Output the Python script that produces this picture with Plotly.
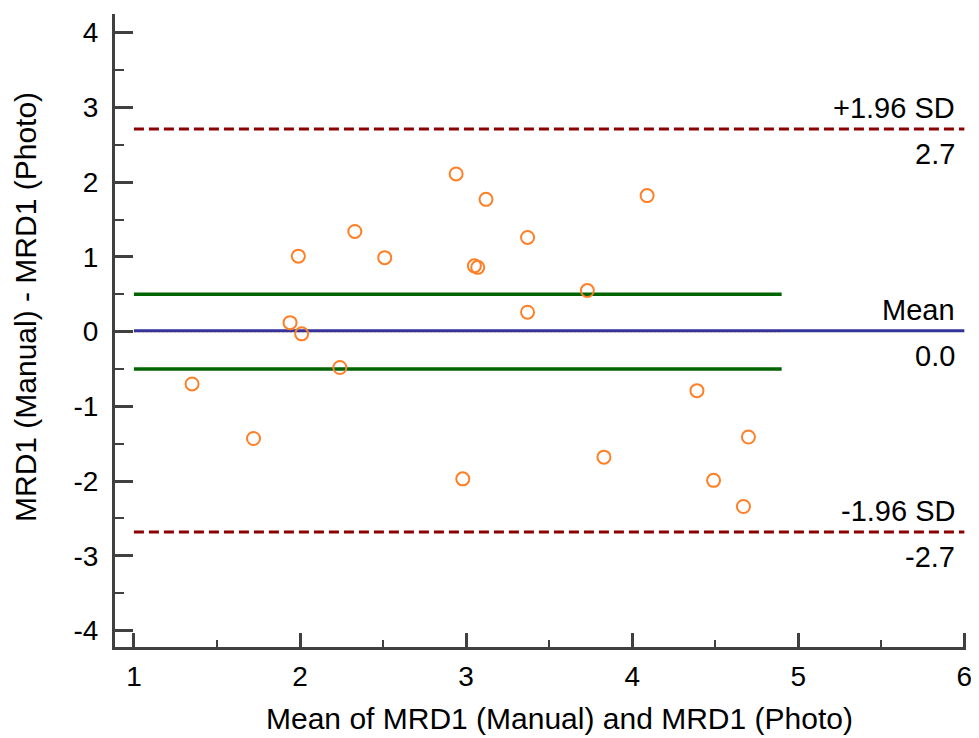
import plotly.graph_objects as go

# Data
mean_vals = [1.35, 1.72, 1.94, 2.01, 1.99, 2.33, 2.51, 2.24, 2.94, 3.12, 3.37,
             3.05, 3.07, 3.37, 3.73, 4.09, 2.98, 3.83, 4.39, 4.70, 4.49, 4.67]
diff_vals = [-0.70, -1.43, 0.12, -0.03, 1.01, 1.34, 0.99, -0.48, 2.11, 1.77, 1.26,
             0.88, 0.86, 0.26, 0.55, 1.82, -1.97, -1.68, -0.79, -1.41, -1.99, -2.34]

mean_diff = 0.013
upper_loa = 2.71
lower_loa = -2.68
agree_limit = 0.5
line_x_full = [1, 6]
line_x_short = [1, 4.9]

x_ticks = [1, 2, 3, 4, 5, 6]
y_ticks = [-4, -3, -2, -1, 0, 1, 2, 3, 4]
y_tick_text = ["-4", "-3", "-2", "-1", "0", "1", "2", "3", "4"]

upper_label = ["+1.96 SD", "2.7"]
mean_label = ["Mean", "0.0"]
lower_label = ["-1.96 SD", "-2.7"]

x_title = "Mean of MRD1 (Manual) and MRD1 (Photo)"
y_title = "MRD1 (Manual) - MRD1 (Photo)"

FONT = "Liberation Sans, Arial, sans-serif"
TXT = 29
TITLE = 30
AX = "#404040"

# page offset from the default 8px body margin
OFF = 8
FW, FH = 979 - OFF, 738 - OFF
# plot-area geometry in window pixels
L, R, T, B = 115, 966, 14, 647
W, H = R - L, B - T

fig = go.Figure()

# zero line (dotted orange)
fig.add_trace(go.Scatter(x=line_x_short, y=[0, 0], mode="lines",
                         line=dict(color="#FF6A1A", width=1.5, dash="2px,2px"),
                         hoverinfo="skip", showlegend=False))
# agreement limits (green)
for v in (agree_limit, -agree_limit):
    fig.add_trace(go.Scatter(x=line_x_short, y=[v, v], mode="lines",
                             line=dict(color="#006400", width=3.5),
                             hoverinfo="skip", showlegend=False))
# mean line
fig.add_trace(go.Scatter(x=line_x_full, y=[mean_diff, mean_diff], mode="lines",
                         line=dict(color="#333399", width=3),
                         hoverinfo="skip", showlegend=False))
# limits of agreement
for v in (upper_loa, lower_loa):
    fig.add_trace(go.Scatter(x=line_x_full, y=[v, v], mode="lines",
                             line=dict(color="#8B0000", width=3, dash="10px,5px"),
                             hoverinfo="skip", showlegend=False))
# points
fig.add_trace(go.Scatter(x=mean_vals, y=diff_vals, mode="markers",
                         marker=dict(symbol="circle-open", size=13,
                                     color="#FF7F27", line=dict(width=2, color="#FF7F27")),
                         showlegend=False))

annots = []
xr = 5.955
for (top, bot), v in ((upper_label, upper_loa), (mean_label, mean_diff), (lower_label, lower_loa)):
    annots.append(dict(x=xr, y=v, xref="x", yref="y", text=top, showarrow=False,
                       xanchor="right", yanchor="middle", yshift=21,
                       font=dict(family=FONT, size=TXT, color="#000")))
    annots.append(dict(x=xr, y=v, xref="x", yref="y", text=bot, showarrow=False,
                       xanchor="right", yanchor="middle", yshift=-25,
                       font=dict(family=FONT, size=TXT, color="#000")))
annots.append(dict(x=(559 - L) / W, y=(B - 718) / H, xref="paper", yref="paper", text=x_title,
                   showarrow=False, xanchor="center", yanchor="middle",
                   font=dict(family=FONT, size=TITLE, color="#000")))
annots.append(dict(x=(25 - L) / W, y=(B - 307) / H, xref="paper", yref="paper", text=y_title,
                   showarrow=False, xanchor="center", yanchor="middle", textangle=-90,
                   font=dict(family=FONT, size=TITLE, color="#000")))

fig.update_layout(
    width=FW, height=FH,
    margin=dict(l=L - OFF, r=979 - R, t=T - OFF, b=738 - B),
    paper_bgcolor="white", plot_bgcolor="white",
    annotations=annots,
    xaxis=dict(range=[0.886, 6.01], showgrid=False, zeroline=False, automargin=False,
               showline=True, linewidth=3, linecolor=AX,
               ticks="inside", ticklen=14, tickwidth=2.5, tickcolor=AX,
               tickvals=x_ticks, ticklabelstandoff=2,
               tickfont=dict(family=FONT, size=28, color="#000"),
               minor=dict(ticks="inside", ticklen=7, tickwidth=2, tickcolor=AX,
                          tickvals=[1.5, 2.5, 3.5, 4.5, 5.5])),
    yaxis=dict(range=[-4.22, 4.25], showgrid=False, zeroline=False, automargin=False,
               showline=True, linewidth=3, linecolor=AX,
               ticks="inside", ticklen=18, tickwidth=2.5, tickcolor=AX,
               tickvals=y_ticks, ticktext=y_tick_text,
               ticklabelstandoff=8,
               tickfont=dict(family=FONT, size=28, color="#000"),
               minor=dict(ticks="inside", ticklen=9, tickwidth=2, tickcolor=AX,
                          tickvals=[-3.5, -2.5, -1.5, -0.5, 0.5, 1.5, 2.5, 3.5])),
)

fig.write_html("out.html")
